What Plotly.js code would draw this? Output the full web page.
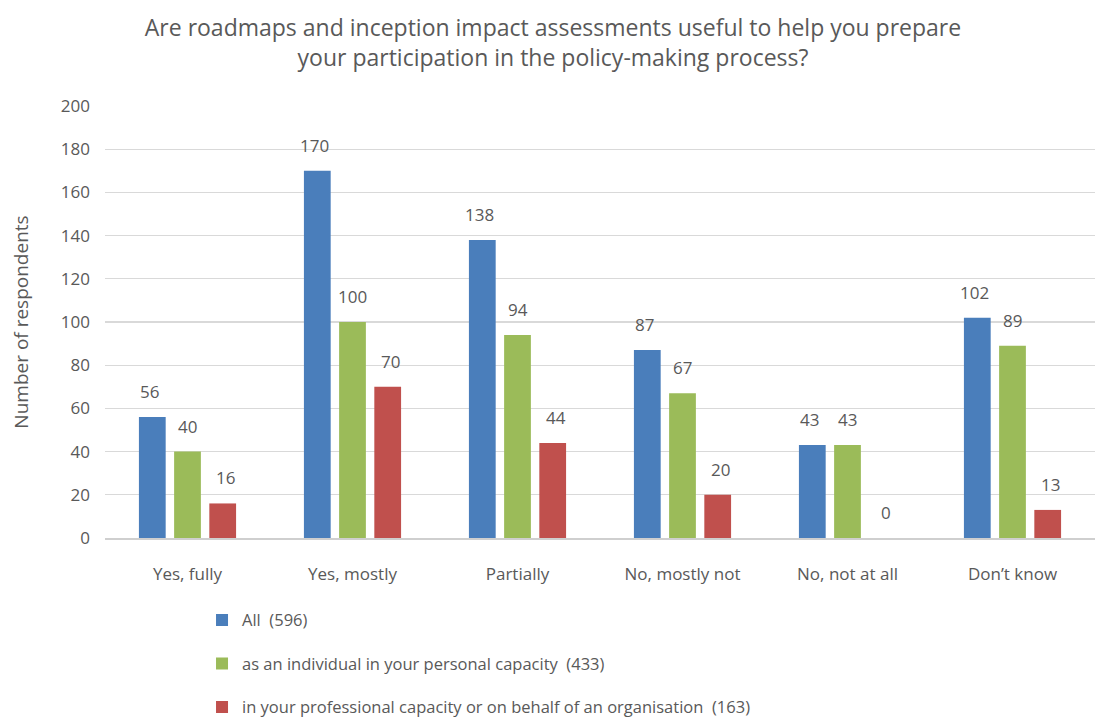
<!DOCTYPE html>
<html><head><meta charset="utf-8">
<script src="https://cdn.plot.ly/plotly-3.0.1.min.js"></script>
<style>body{margin:0;background:#fff}#c{width:1106px;height:724px}</style>
</head><body><div id="c"></div>
<script>
const categories = ["Yes, fully","Yes, mostly","Partially","No, mostly not","No, not at all","Don’t know"];
const allValues = [56,170,138,87,43,102];
const individualValues = [40,100,94,67,43,89];
const professionalValues = [16,70,44,20,0,13];
const seriesNames = ["All  (596)","as an individual in your personal capacity  (433)","in your professional capacity or on behalf of an organisation  (163)"];
const colors = ["#4A7EBB","#9BBB59","#C0504D"];
const series = [allValues, individualValues, professionalValues];
const font = "Open Sans, Noto Sans, sans-serif";
const gray = "#595959";
const traces = series.map((v,i)=>({
  type:"bar", x:categories, y:v, name:seriesNames[i],
  marker:{color:colors[i]}, legendgroup:"g"+i, hoverinfo:"none"
}));
const barStep = 38;
const annotations = [];
series.forEach((v,i)=>{
  v.forEach((val,j)=>{
    annotations.push({x:categories[j], y:val, xref:"x", yref:"y", text:String(val),
      showarrow:false, yanchor:"bottom", xanchor:"center", yshift:12, xshift:(i-1)*barStep,
      font:{family:font,size:17,color:gray}});
  });
});
const layout = {
  width:1106,height:724,
  margin:{l:105,r:11,t:106,b:186,autoexpand:false},
  paper_bgcolor:"#fff",plot_bgcolor:"#fff",
  barmode:"group",bargap:0.36,bargroupgap:0.24,
  font:{family:font,color:gray},
  title:{text:"Are roadmaps and inception impact assessments useful to help you prepare<br>your participation in the policy-making process?",
    font:{family:font,size:23,color:gray},x:0.5,xanchor:"center",y:0.95,yanchor:"top"},
  xaxis:{tickfont:{size:17,color:gray},ticklabelstandoff:20,showline:true,linecolor:"#CFCFCF",linewidth:2},
  yaxis:{range:[0,200],dtick:20,tickfont:{size:17,color:gray},gridcolor:"#D9D9D9",gridwidth:1.2,
    zeroline:false,ticklabelstandoff:14,
    title:{text:"Number of respondents",font:{size:19,color:gray},standoff:27}},
  legend:{orientation:"v",x:0.098,y:-0.15,xanchor:"left",yanchor:"top",
    traceorder:"grouped",tracegroupgap:19,font:{size:16.5,color:gray},itemwidth:30},
  annotations:annotations,
  showlegend:true
};
Plotly.newPlot("c",traces,layout,{displayModeBar:false,staticPlot:true});
</script></body></html>
